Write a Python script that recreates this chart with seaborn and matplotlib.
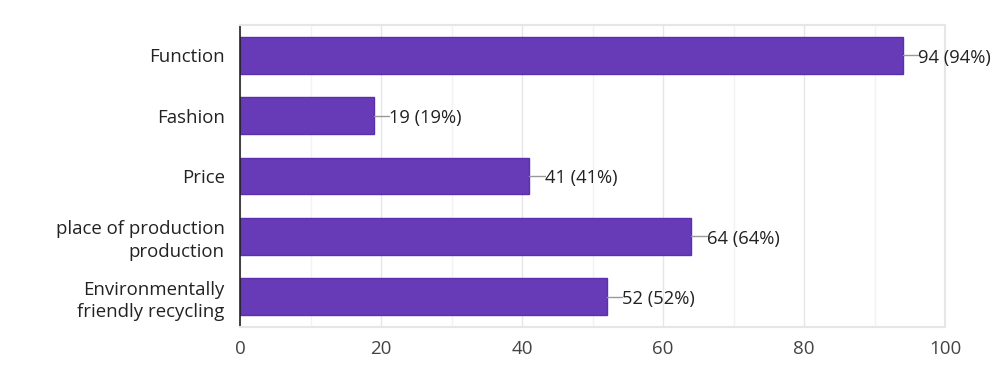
import matplotlib
matplotlib.use("Agg")
import matplotlib.pyplot as plt
import seaborn as sns
import pandas as pd

# ── Data ────────────────────────────────────────────────
categories = ["Function", "Fashion", "Price",
              "place of production\nproduction",
              "Environmentally\nfriendly recycling"]
counts = [94, 19, 41, 64, 52]
percents = [94, 19, 41, 64, 52]
x_ticks = [0, 20, 40, 60, 80, 100]

BAR_COLOR = "#673ab7"
EDGE_COLOR = "#5b2fb0"

sns.set_style("white")
plt.rcParams["font.family"] = ["Open Sans", "DejaVu Sans"]

df = pd.DataFrame({"category": categories, "count": counts})

fig = plt.figure(figsize=(10, 3.83), dpi=100)
ax = fig.add_axes([0.24, 0.146, 0.705, 0.789])

sns.barplot(data=df, y="category", x="count", orient="h",
            color=BAR_COLOR, edgecolor=EDGE_COLOR, linewidth=1,
            width=0.61, saturation=1, ax=ax)

ax.set_xlim(0, 100)
ax.set_ylim(4.5, -0.5)
ax.set_xticks(x_ticks)
ax.set_xticks(range(10, 100, 20), minor=True)
ax.grid(axis="x", which="major", color="#e6e6e6", linewidth=1)
ax.grid(axis="x", which="minor", color="#f2f2f2", linewidth=1)
ax.set_axisbelow(True)

ax.set_xlabel("")
ax.set_ylabel("")
ax.tick_params(axis="x", length=0, pad=9, labelsize=13.5, labelcolor="#444444")
ax.tick_params(axis="y", length=0, pad=11, labelsize=13.4, labelcolor="#222222")
for lab in ax.get_yticklabels():
    lab.set_horizontalalignment("right")
    lab.set_linespacing(1.3)

for side in ["top", "right", "bottom"]:
    ax.spines[side].set_color("#e6e6e6")
    ax.spines[side].set_linewidth(1.5)
ax.spines["left"].set_color("#222222")
ax.spines["left"].set_linewidth(1.2)

# value labels with small connector line
for i, (c, p) in enumerate(zip(counts, percents)):
    ax.plot([c, c + 2.2], [i, i], color="#999999", lw=1, zorder=3)
    ax.text(c + 2.2, i + 0.04, f"{c} ({p}%)", va="center", ha="left",
            fontsize=13.2, color="#222222")

fig.savefig("out.png", dpi=100)
